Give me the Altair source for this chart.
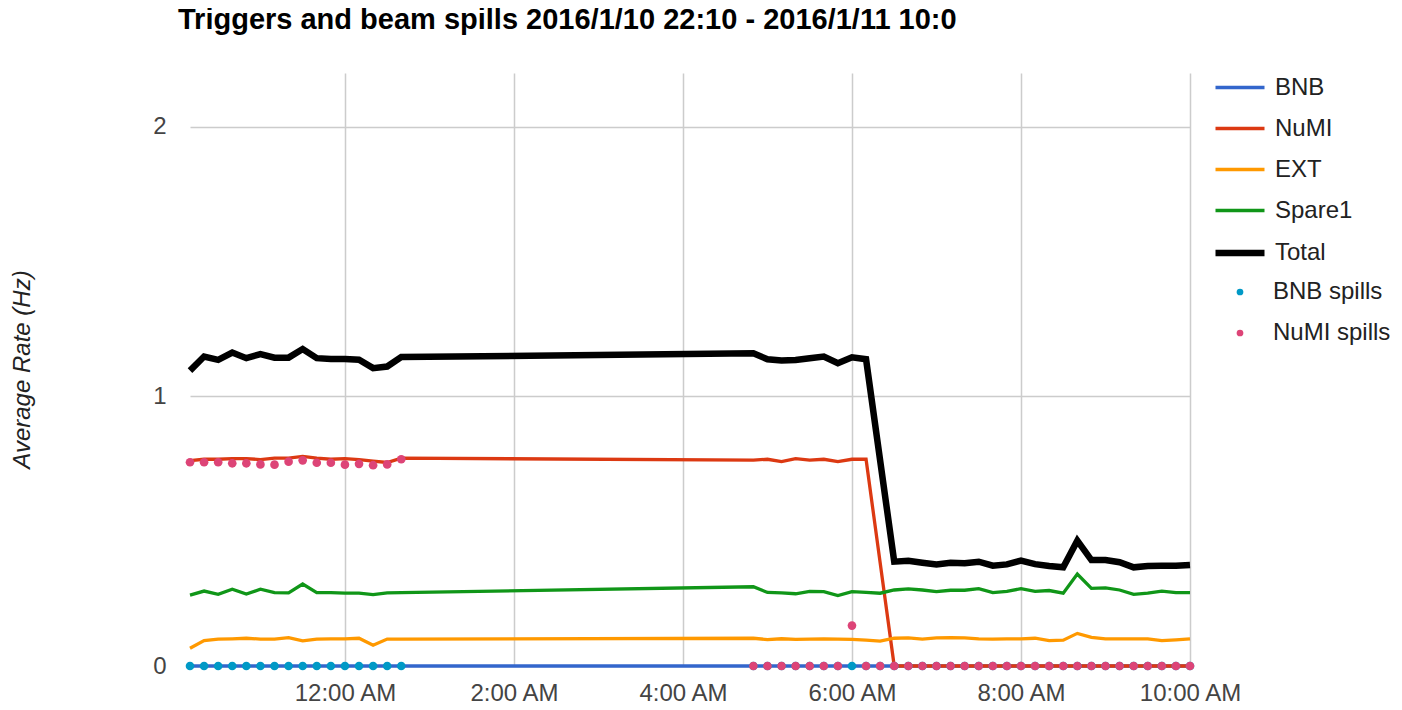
import altair as alt
import pandas as pd

# ---- data ----
times_a = ["2016-01-10T22:10", "2016-01-10T22:20", "2016-01-10T22:30", "2016-01-10T22:40",
           "2016-01-10T22:50", "2016-01-10T23:00", "2016-01-10T23:10", "2016-01-10T23:20",
           "2016-01-10T23:30", "2016-01-10T23:40", "2016-01-10T23:50", "2016-01-11T00:00",
           "2016-01-11T00:10", "2016-01-11T00:20", "2016-01-11T00:30", "2016-01-11T00:40"]
times_b = ["2016-01-11T04:50", "2016-01-11T05:00", "2016-01-11T05:10", "2016-01-11T05:20",
           "2016-01-11T05:30", "2016-01-11T05:40", "2016-01-11T05:50", "2016-01-11T06:00",
           "2016-01-11T06:10", "2016-01-11T06:20", "2016-01-11T06:30", "2016-01-11T06:40",
           "2016-01-11T06:50", "2016-01-11T07:00", "2016-01-11T07:10", "2016-01-11T07:20",
           "2016-01-11T07:30", "2016-01-11T07:40", "2016-01-11T07:50", "2016-01-11T08:00",
           "2016-01-11T08:10", "2016-01-11T08:20", "2016-01-11T08:30", "2016-01-11T08:40",
           "2016-01-11T08:50", "2016-01-11T09:00", "2016-01-11T09:10", "2016-01-11T09:20",
           "2016-01-11T09:30", "2016-01-11T09:40", "2016-01-11T09:50", "2016-01-11T10:00"]
times = times_a + times_b

bnb = [0.0] * 48
numi = [0.762, 0.767, 0.767, 0.769, 0.769, 0.766, 0.771, 0.771, 0.778, 0.771, 0.767, 0.769,
        0.766, 0.760, 0.755, 0.771,
        0.764, 0.767, 0.758, 0.769, 0.764, 0.767, 0.758, 0.767, 0.767, None,
        0, 0, 0, 0, 0, 0, 0, 0, 0, 0, 0, 0, 0, 0, 0, 0, 0, 0, 0, 0, 0, 0]
ext = [0.066, 0.094, 0.100, 0.101, 0.103, 0.100, 0.100, 0.105, 0.093, 0.100, 0.101, 0.101,
       0.103, 0.077, 0.100, 0.100,
       0.103, 0.098, 0.101, 0.099, 0.100, 0.101, 0.100, 0.099, 0.096, 0.092,
       0.103, 0.104, 0.100, 0.104, 0.105, 0.104, 0.101, 0.100, 0.101, 0.101, 0.103,
       0.094, 0.096, 0.121, 0.106, 0.101, 0.101, 0.101, 0.101, 0.094, 0.097, 0.101]
spare1 = [0.263, 0.278, 0.266, 0.285, 0.267, 0.285, 0.272, 0.271, 0.304, 0.272, 0.272, 0.270,
          0.270, 0.265, 0.271, 0.272,
          0.294, 0.273, 0.271, 0.268, 0.277, 0.276, 0.261, 0.276, 0.273, 0.270,
          0.282, 0.286, 0.282, 0.276, 0.281, 0.281, 0.287, 0.272, 0.277, 0.287, 0.277,
          0.280, 0.270, 0.341, 0.288, 0.290, 0.282, 0.266, 0.270, 0.278, 0.272, 0.272]
total = [1.096, 1.148, 1.136, 1.163, 1.142, 1.157, 1.144, 1.144, 1.176, 1.142, 1.139, 1.139,
         1.136, 1.105, 1.111, 1.146,
         1.160, 1.138, 1.133, 1.135, 1.142, 1.148, 1.123, 1.145, 1.138, None,
         0.387, 0.390, 0.383, 0.377, 0.383, 0.381, 0.387, 0.372, 0.377, 0.391, 0.378,
         0.371, 0.366, 0.465, 0.393, 0.393, 0.385, 0.366, 0.371, 0.372, 0.372, 0.375]
bnb_spills = [0.0] * 48
numi_spills = [0.756, 0.756, 0.756, 0.752, 0.752, 0.748, 0.747, 0.758, 0.763, 0.754, 0.754,
               0.747, 0.750, 0.745, 0.748, 0.767,
               0, 0, 0, 0, 0, 0, 0, 0.15, 0, 0,
               0, 0, 0, 0, 0, 0, 0, 0, 0, 0, 0, 0, 0, 0, 0, 0, 0, 0, 0, 0, 0, 0]

line_names = ["BNB", "NuMI", "EXT", "Spare1", "Total"]
line_colors = ["#3366cc", "#dc3912", "#ff9900", "#109618", "#000000"]
line_widths = [3.3, 3.3, 3.3, 3.3, 6.5]
point_names = ["BNB spills", "NuMI spills"]
point_colors = ["#0099c6", "#dd4477"]
series_values = [bnb, numi, ext, spare1, total, bnb_spills, numi_spills]

rows = []
for name, vals in zip(line_names + point_names, series_values):
    for t, v in zip(times, vals):
        if v is not None:
            rows.append({"time": t, "value": v, "series": name})
df = pd.DataFrame(rows)

FONT = "Liberation Sans"

line_legend = alt.Legend(
    title=None, orient="none", legendX=1022, legendY=-12, padding=0,
    symbolType="stroke", symbolSize=2401,
    labelFont=FONT, labelFontSize=24, labelColor="#222222",
    labelOffset=7, rowPadding=2, labelLimit=300,
)
point_legend = alt.Legend(
    title=None, orient="none", legendX=1038, legendY=207, padding=0,
    symbolType="circle", symbolSize=45, symbolOpacity=1,
    labelFont=FONT, labelFontSize=24, labelColor="#222222",
    labelOffset=21, rowPadding=17, labelLimit=300,
)

tick_vals = [alt.DateTime(year=2016, month=1, date=11, hours=h) for h in [0, 2, 4, 6, 8, 10]]

x = alt.X(
    "time:T",
    scale=alt.Scale(domain=[alt.DateTime(year=2016, month=1, date=10, hours=22, minutes=10),
                            alt.DateTime(year=2016, month=1, date=11, hours=10)]),
    axis=alt.Axis(title=None, values=tick_vals, format="%-I:%M %p", labelFont=FONT,
                  labelFontSize=24, labelColor="#444444", domain=False, ticks=False,
                  labelPadding=15, gridColor="#cccccc", gridWidth=1.5, labelFlush=False),
)
y = alt.Y(
    "value:Q",
    scale=alt.Scale(domain=[0, 2.2], nice=False),
    axis=alt.Axis(title="Average Rate (Hz)", values=[0, 1, 2], labelFont=FONT,
                  labelFontSize=24, labelColor="#444444", domain=False, ticks=False,
                  labelPadding=24, gridColor="#cccccc", gridWidth=1.5,
                  titleFont=FONT, titleFontSize=24, titleFontStyle="italic",
                  titleFontWeight="normal", titleColor="#222222",
                  titleX=-168, titleY=296, titleAngle=-90, titleAlign="center",
                  titleBaseline="middle"),
)

base = alt.Chart(df)
lines = base.transform_filter(
    alt.FieldOneOfPredicate(field="series", oneOf=line_names)
).mark_line().encode(
    x=x, y=y,
    stroke=alt.Stroke("series:N", scale=alt.Scale(domain=line_names, range=line_colors),
                      legend=line_legend),
    strokeWidth=alt.StrokeWidth("series:N",
                                scale=alt.Scale(type="ordinal", domain=line_names,
                                                range=line_widths),
                                legend=line_legend),
)
points = base.transform_filter(
    alt.FieldOneOfPredicate(field="series", oneOf=point_names)
).mark_point(filled=True, opacity=1, size=75).encode(
    x=x, y=y,
    fill=alt.Fill("series:N", scale=alt.Scale(domain=point_names, range=point_colors),
                  legend=point_legend),
)

chart = alt.layer(lines, points).properties(
    width=1000, height=593,
    title=alt.Title("Triggers and beam spills 2016/1/10 22:10 - 2016/1/11 10:0",
                    anchor="start", frame="group", font=FONT, fontSize=29,
                    fontWeight="bold", color="#000000", dx=-12, dy=-2, offset=24),
    autosize=alt.AutoSizeParams(type="none"),
    padding={"left": 182, "top": 65, "right": 204, "bottom": 36},
).configure_view(stroke=None)

chart.save("out.html", embed_options={"renderer": "svg", "actions": False})
